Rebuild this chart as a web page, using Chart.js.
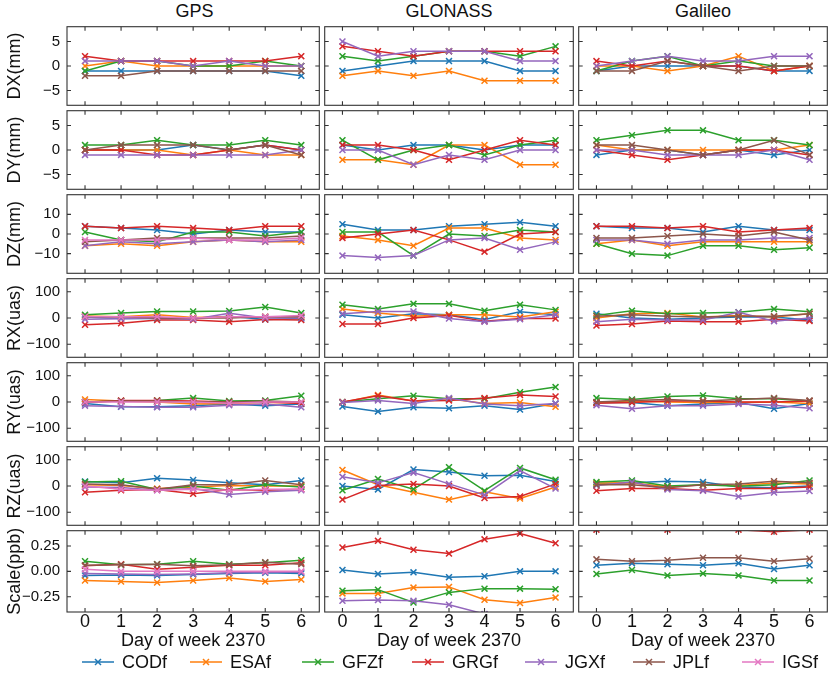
<!DOCTYPE html>
<html><head><meta charset="utf-8">
<script src="https://cdn.jsdelivr.net/npm/chart.js@4.4.0/dist/chart.umd.min.js"></script>
<style>
html,body{margin:0;padding:0;background:#fff;}
body{width:833px;height:678px;overflow:hidden;position:relative;font-family:'Liberation Sans',Arial,sans-serif;color:#111;}
.pane{position:absolute;}
.ctitle{position:absolute;font-size:18px;line-height:18px;white-space:nowrap;transform:translateX(-50%);}
.litem{position:absolute;display:flex;align-items:center;font-size:18px;line-height:18px;white-space:nowrap;}
.litem svg{margin-right:8px;}
</style></head><body>
<script>
// ---------- data ----------
const days = ['0','1','2','3','4','5','6'];
const seriesNames = ['CODf','ESAf','GFZf','GRGf','JGXf','JPLf','IGSf'];
const seriesColors = ['#1f77b4','#ff7f0e','#2ca02c','#d62728','#9467bd','#8c564b','#e377c2'];
const systems = ['GPS','GLONASS','Galileo'];
const rowLabels = ['DX(mm)','DY(mm)','DZ(mm)','RX(uas)','RY(uas)','RZ(uas)','Scale(ppb)'];
const yLimits = [8, 8, 20, 150, 150, 150, 0.4];
const yTicks = [[-5,0,5],[-5,0,5],[-10,0,10],[-100,0,100],[-100,0,100],[-100,0,100],[-0.25,0,0.25]];
const xTitle = 'Day of week 2370';

// each panel: rows in order CODf, ESAf, GFZf, GRGf, JGXf, JPLf, IGSf (null = not shown)
const GPS_DX = [
  [-1,-1,-1,-1,-1,-1,-2],
  [0,1,0,0,0,0,0],
  [-1,1,1,0,0,1,0],
  [2,1,1,1,1,1,2],
  [1,1,1,0,1,0,0],
  [-2,-2,-1,-1,-1,-1,-1],
  null];
const GPS_DY = [
  [0,0,0,1,0,1,0],
  [0,0,0,-1,0,-1,-1],
  [1,1,2,1,1,2,1],
  [0,0,-1,-1,0,1,0],
  [-1,-1,-1,-1,-1,-1,0],
  [0,1,1,1,0,1,-1],
  null];
const GPS_DZ = [
  [4,3,2,0,2,1,1],
  [-6,-5,-6,-4,-3,-4,-4],
  [1,-3,-4,1,1,-1,1],
  [4,3,4,3,2,4,4],
  [-6,-4,-5,-4,-3,-4,-3],
  [-4,-3,-2,-2,-2,-2,-1],
  [-3,-3,-3,-2,-3,-3,-2]];
const GPS_RX = [
  [4,-2,-2,-2,7,-6,-2],
  [8,5,12,2,5,5,5],
  [12,19,25,25,27,42,19],
  [-26,-20,-8,-8,-14,-6,-8],
  [-5,-3,0,-5,18,0,0],
  [5,5,0,0,0,5,5],
  [5,5,5,0,5,5,10]];
const GPS_RY = [
  [-6,-18,-18,-14,-8,-14,-8],
  [10,4,0,-8,-6,-2,-2],
  [0,4,6,15,4,6,24],
  [-2,6,6,4,0,0,-6],
  [-14,-17,-20,-20,-12,-8,-20],
  [0,4,4,0,0,4,0],
  [0,0,0,0,-5,0,0]];
const GPS_RZ = [
  [17,12,30,23,12,5,21],
  [5,2,-10,-4,2,0,0],
  [15,18,-13,0,-16,5,-4],
  [-24,-16,-13,-30,-13,-16,-12],
  [-4,-6,-16,-10,-32,-22,-16],
  [8,5,-12,5,5,21,5],
  [0,-12,-16,-12,-16,-12,-12]];
const GPS_SCALE = [
  [-0.04,-0.035,-0.04,-0.03,-0.02,-0.015,-0.02],
  [-0.09,-0.10,-0.11,-0.09,-0.065,-0.10,-0.08],
  [0.10,0.065,0.07,0.10,0.07,0.085,0.11],
  [0.055,0.07,0.02,0.04,0.06,0.06,0.085],
  [-0.02,-0.025,-0.03,-0.025,-0.015,-0.01,-0.01],
  [0.06,0.065,0.07,0.055,0.065,0.09,0.07],
  [0.02,0.0,0.0,0.0,0.0,0.0,0.0]];

const GLO_DX = [
  [-1,0,1,1,1,-1,-1],
  [-2,-1,-2,-1,-3,-3,-3],
  [2,1,2,3,3,2,4],
  [4,3,2,3,3,3,3],
  [5,2,3,3,3,1,1],
  null, null];
const GLO_DY = [
  [1,0,1,1,0,1,1],
  [-2,-2,-3,1,1,-3,-3],
  [2,-2,0,1,-1,1,2],
  [1,1,0,-2,0,2,1],
  [0,0,-3,-1,-2,0,0],
  null, null];
const GLO_DZ = [
  [5,2,2,4,5,6,4],
  [-1,-3,-6,3,3,-2,-3],
  [1,1,-11,0,-1,2,1],
  [-2,0,2,-3,-9,0,1],
  [-11,-12,-11,-3,-2,-8,-4],
  null, null];
const GLO_RX = [
  [12,0,16,12,-6,24,12],
  [34,19,7,12,12,4,24],
  [51,34,54,54,28,51,31],
  [-23,-23,0,10,-12,-2,-2],
  [16,25,25,-2,-14,-5,12],
  null, null];
const GLO_RY = [
  [-17,-36,-20,-24,-14,-29,-6],
  [-2,27,4,12,-6,-2,-18],
  [0,12,24,12,12,37,57],
  [0,24,4,6,15,27,21],
  [-2,6,-6,15,-8,-14,-6],
  null, null];
const GLO_RZ = [
  [0,-13,63,53,39,41,17],
  [61,5,-24,-52,-22,-48,-4],
  [-16,27,-12,72,-18,69,24],
  [-52,2,8,0,-46,-40,8],
  [35,12,51,8,-34,59,-10],
  null, null];
const GLO_SCALE = [
  [0.013,-0.025,-0.01,-0.057,-0.048,0.0,0.0],
  [-0.217,-0.217,-0.16,-0.153,-0.28,-0.312,-0.258],
  [-0.19,-0.18,-0.306,-0.207,-0.17,-0.17,-0.175],
  [0.235,0.30,0.213,0.175,0.315,0.373,0.277],
  [-0.29,-0.283,-0.29,-0.328,-0.42,-0.45,-0.45],
  null, null];

const GAL_DX = [
  [-1,0,0,0,0,-1,-1],
  [0,0,-1,0,2,-1,0],
  [-1,1,2,0,1,0,0],
  [1,0,1,0,0,-1,0],
  [0,1,2,1,1,2,2],
  [-1,-1,1,0,-1,0,0],
  null];
const GAL_DY = [
  [-1,0,0,-1,0,-1,0],
  [1,0,0,0,0,0,1],
  [2,3,4,4,2,2,1],
  [0,-1,-2,-1,0,0,-1],
  [0,0,-1,-1,-1,0,-2],
  [1,1,0,-1,0,2,-1],
  null];
const GAL_DZ = [
  [4,3,3,1,4,2,2],
  [-5,-3,-6,-4,-4,-4,-4],
  [-5,-10,-11,-6,-6,-8,-7],
  [4,4,3,4,1,2,3],
  [-3,-3,-5,-3,-3,-2,-2],
  [-2,-2,-1,0,-1,1,-3],
  null];
const GAL_RX = [
  [16,0,-5,0,4,4,-8],
  [0,16,19,4,10,4,16],
  [10,28,16,19,22,34,24],
  [-29,-23,-11,-14,-14,-5,-11],
  [-14,-5,-8,-8,22,-12,0],
  [7,12,7,4,7,7,16],
  null];
const GAL_RY = [
  [-2,-2,-14,-8,-2,-26,-6],
  [-2,4,0,-2,-2,0,-6],
  [15,10,21,25,12,12,4],
  [-5,-2,4,4,0,0,4],
  [-12,-26,-14,-14,-8,-12,-24],
  [0,6,10,4,10,15,6],
  null];
const GAL_RZ = [
  [8,12,18,15,-4,-7,0],
  [11,12,-4,5,2,11,8],
  [15,21,0,5,-1,5,21],
  [-18,-10,-10,-16,-10,-10,-4],
  [2,15,-13,-18,-40,-25,-19],
  [5,5,-7,5,8,18,12],
  null];
const GAL_SCALE = [
  [0.06,0.08,0.07,0.06,0.08,0.022,0.06],
  null,
  [-0.025,0.013,-0.04,-0.02,-0.04,-0.09,-0.09],
  [0.41,0.47,0.41,0.47,0.41,0.39,0.41],
  null,
  [0.118,0.10,0.11,0.134,0.134,0.10,0.124],
  null];

const panelData = [
  [GPS_DX, GPS_DY, GPS_DZ, GPS_RX, GPS_RY, GPS_RZ, GPS_SCALE],
  [GLO_DX, GLO_DY, GLO_DZ, GLO_RX, GLO_RY, GLO_RZ, GLO_SCALE],
  [GAL_DX, GAL_DY, GAL_DZ, GAL_RX, GAL_RY, GAL_RZ, GAL_SCALE]
];

// ---------- layout ----------
const FONT = "'Liberation Sans', Arial, sans-serif";
Chart.defaults.font.family = FONT;
Chart.defaults.color = '#111';
const colL = [67, 322, 576], colR = [322, 576, 830];
const rowTop = 24, rowH = 84, PAD = 3, TICK = 4;
const xAxisBand = 40;

function fmtTick(r, v) {
  const s = r === 6 ? Number(v).toFixed(2) : String(v);
  return s.replace('-', '\u2212');
}

const framePlugin = {
  id: 'frame',
  afterDraw(chart, args, opts) {
    const {ctx, chartArea: a, scales} = chart;
    const xs = scales.x, ys = scales.y;
    ctx.save();
    ctx.strokeStyle = '#333';
    ctx.lineWidth = 1.1;
    ctx.strokeRect(a.left, a.top, a.right - a.left, a.bottom - a.top);
    ctx.beginPath();
    days.forEach((d, i) => {
      const px = xs.getPixelForValue(i);
      ctx.moveTo(px, a.top); ctx.lineTo(px, a.top + TICK);
      ctx.moveTo(px, a.bottom); ctx.lineTo(px, a.bottom - TICK);
    });
    yTicks[opts.row].forEach(v => {
      const py = ys.getPixelForValue(v);
      ctx.moveTo(a.left, py); ctx.lineTo(a.left + TICK, py);
      ctx.moveTo(a.right, py); ctx.lineTo(a.right - TICK, py);
    });
    ctx.stroke();
    ctx.restore();
  }
};

// column titles
systems.forEach((s, c) => {
  const d = document.createElement('div');
  d.className = 'ctitle';
  d.textContent = s;
  d.style.left = ((colL[c] + colR[c]) / 2) + 'px';
  d.style.top = '2px';
  document.body.appendChild(d);
});

for (let c = 0; c < 3; c++) {
  for (let r = 0; r < 7; r++) {
    const L = colL[c], R = colR[c], T = rowTop + r * rowH, B = T + rowH;
    const left = c === 0 ? 0 : L - PAD;
    const top = T - PAD;
    const right = R + PAD;
    const bottom = r === 6 ? B + xAxisBand : B + PAD;
    const yW = c === 0 ? L - left : 0;
    const xH = r === 6 ? bottom - B : 0;
    const w = right - left, h = bottom - top;

    const div = document.createElement('div');
    div.className = 'pane';
    div.style.left = left + 'px'; div.style.top = top + 'px';
    div.style.width = w + 'px'; div.style.height = h + 'px';
    const cv = document.createElement('canvas');
    cv.width = w; cv.height = h;
    cv.style.width = w + 'px'; cv.style.height = h + 'px';
    div.appendChild(cv);
    document.body.appendChild(div);

    const datasets = [];
    panelData[c][r].forEach((vals, i) => {
      if (!vals) return;
      datasets.push({
        label: seriesNames[i],
        data: vals,
        borderColor: seriesColors[i],
        backgroundColor: seriesColors[i],
        borderWidth: 1.5,
        pointStyle: 'crossRot',
        pointRadius: 4.2,
        pointBorderWidth: 1.5,
        pointBorderColor: seriesColors[i],
        tension: 0,
        fill: false,
        clip: 0,
        order: seriesNames.length - 1 - i
      });
    });

    new Chart(cv, {
      type: 'line',
      data: {labels: days, datasets},
      options: {
        responsive: false,
        animation: false,
        events: [],
        layout: {padding: {left: c === 0 ? 0 : PAD, right: PAD, top: PAD, bottom: r === 6 ? 0 : PAD}},
        plugins: {legend: {display: false}, tooltip: {enabled: false}, frame: {row: r}},
        scales: {
          x: {
            type: 'category', offset: true, display: r === 6,
            grid: {display: false, drawTicks: false},
            border: {display: false},
            ticks: {font: {size: 18}, color: '#111', padding: -1, maxRotation: 0, minRotation: 0, autoSkip: false},
            title: {display: true, text: xTitle, font: {size: 18}, color: '#111', padding: {top: 0, bottom: 0}},
            afterFit: s => { s.height = xH; s.paddingLeft = 0; s.paddingRight = 0; s.paddingTop = 0; s.paddingBottom = 0; }
          },
          y: {
            type: 'linear', min: -yLimits[r], max: yLimits[r], display: c === 0,
            afterBuildTicks: s => { s.ticks = yTicks[r].map(v => ({value: v})); },
            grid: {display: false, drawTicks: false},
            border: {display: false},
            ticks: {font: {size: 15}, color: '#111', padding: 7, callback: v => fmtTick(r, v)},
            title: {display: true, text: rowLabels[r], font: {size: 18}, color: '#111', padding: {top: 4, bottom: 0}},
            afterFit: s => { s.width = yW; s.paddingTop = 0; s.paddingBottom = 0; s.paddingLeft = 0; s.paddingRight = 0; }
          }
        }
      },
      plugins: [framePlugin]
    });
  }
}

// legend
const legendX = [82, 190, 302, 412, 525, 633, 742];
seriesNames.forEach((n, i) => {
  const it = document.createElement('div');
  it.className = 'litem';
  it.style.left = legendX[i] + 'px';
  it.style.top = '653px';
  const col = seriesColors[i];
  it.innerHTML = '<svg width="32" height="14" viewBox="0 0 32 14">' +
    '<line x1="0" y1="7" x2="32" y2="7" stroke="' + col + '" stroke-width="1.5"/>' +
    '<line x1="13" y1="4" x2="19" y2="10" stroke="' + col + '" stroke-width="1.5"/>' +
    '<line x1="13" y1="10" x2="19" y2="4" stroke="' + col + '" stroke-width="1.5"/>' +
    '</svg><span>' + n + '</span>';
  document.body.appendChild(it);
});
</script>
</body></html>
